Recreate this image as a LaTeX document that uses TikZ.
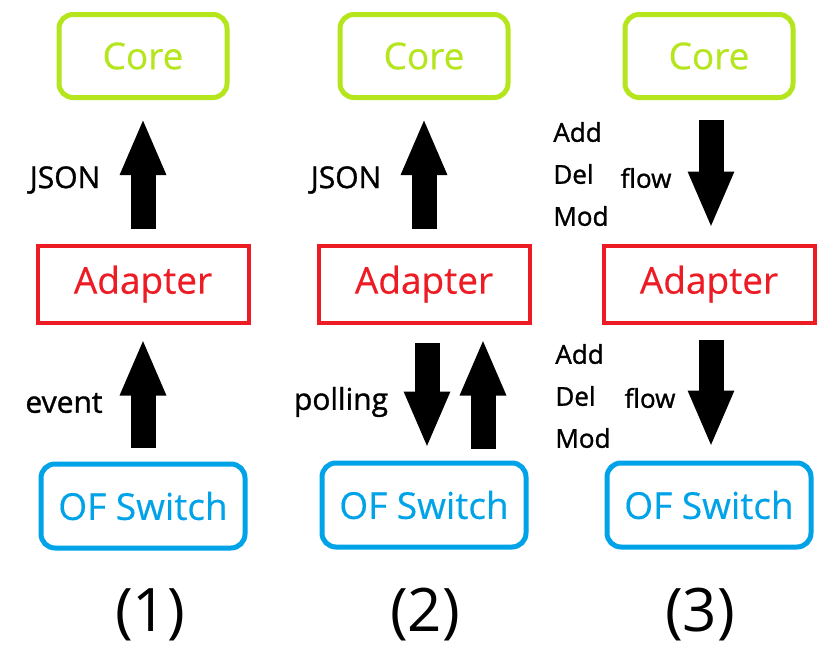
\documentclass[tikz,border=0pt]{standalone}
\usepackage{fontspec}
\setmainfont{Open Sans}
\newfontfamily\boxfont{Open Sans}[FakeBold=0.4]
\newfontfamily\tagfont{Open Sans}[FakeBold=1.2]
\usetikzlibrary{arrows.meta,positioning}
\definecolor{corecol}{HTML}{B5E61D}
\definecolor{adaptcol}{HTML}{ED1C24}
\definecolor{switchcol}{HTML}{00A2E8}
\tikzset{
  box/.style={align=center,inner sep=2pt,font=\boxfont\fontsize{18.5}{20}\selectfont},
  corebox/.style={box,draw=corecol,text=corecol,line width=2.5pt,rounded corners=7pt,minimum width=84pt,minimum height=41.5pt},
  adaptbox/.style={box,draw=adaptcol,text=adaptcol,line width=2pt,minimum width=105.5pt,minimum height=38.5pt},
  switchbox/.style={box,draw=switchcol,text=switchcol,line width=2.5pt,rounded corners=7pt,minimum width=102pt,minimum height=42pt},
  fat/.style={line width=12.5pt,-{Triangle[width=21pt,length=28.5pt]}},
  tag/.style={font=\tagfont\fontsize{15}{18}\selectfont,text=black,inner sep=1pt},
  op/.style={font=\tagfont\fontsize{13}{21}\selectfont,text=black,align=left,inner sep=1pt},
  caption/.style={font=\fontsize{30}{34}\selectfont,text=black},
}
\begin{document}
\begin{tikzpicture}[x=0.5pt,y=-0.5pt]
\useasboundingbox (0,0) rectangle (826,648);

% (1) event driven
\node[corebox] (core1) at (143,56) {Core};
\node[adaptbox] (adapter1) at (143,284) {Adapter};
\node[switchbox] (switch1) at (143,506) {OF Switch};
\draw[fat,shorten <=7.5pt,shorten >=9pt] (adapter1) -- (core1);
\draw[fat,shorten <=7pt,shorten >=7pt] (switch1) -- (adapter1);
\node[tag] (json1) at (65,180) {JSON};
\node[tag] (event1) at (64,403) {event};
\node[caption] (cap1) at (150,615) {(1)};

% (2) polling
\node[corebox] (core2) at (424,56) {Core};
\node[adaptbox] (adapter2) at (424,284) {Adapter};
\node[switchbox] (switch2) at (424,505) {OF Switch};
\draw[fat,shorten <=7.5pt,shorten >=9pt] (adapter2) -- (core2);
\draw[fat,shorten <=9pt,shorten >=6pt] ([xshift=1.5pt]adapter2.south) -- ([xshift=1.5pt]switch2.north);
\draw[fat,shorten <=6pt,shorten >=7pt] ([xshift=29.5pt]switch2.north) -- ([xshift=29.5pt]adapter2.south);
\node[tag] (json2) at (346,180) {JSON};
\node[tag] (poll2) at (341,402) {polling};
\node[caption] (cap2) at (425,615) {(2)};

% (3) flow operations
\node[corebox] (core3) at (709,56) {Core};
\node[adaptbox] (adapter3) at (709,284) {Adapter};
\node[switchbox] (switch3) at (709,505) {OF Switch};
\draw[fat,shorten <=10pt,shorten >=7.5pt] ([xshift=1pt]core3.south) -- ([xshift=1pt]adapter3.north);
\draw[fat,shorten <=7.5pt,shorten >=6.5pt] ([xshift=1pt]adapter3.south) -- ([xshift=1pt]switch3.north);
\node[op,anchor=west] (ops3a) at (551,174) {Add\\Del\\Mod};
\node[tag,font=\tagfont\fontsize{13}{15}\selectfont] (flow3a) at (646,178) {flow};
\node[op,anchor=west] (ops3b) at (553,396) {Add\\Del\\Mod};
\node[tag,font=\tagfont\fontsize{13}{15}\selectfont] (flow3b) at (650,398) {flow};
\node[caption] (cap3) at (700,615) {(3)};

\end{tikzpicture}
\end{document}
